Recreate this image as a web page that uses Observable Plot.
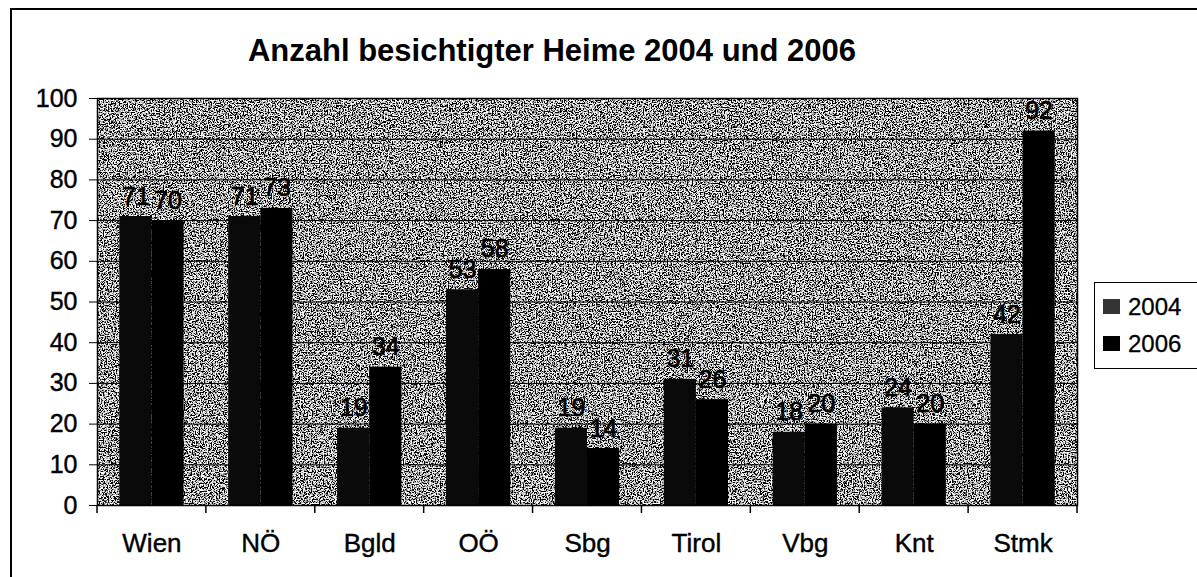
<!DOCTYPE html>
<html><head><meta charset="utf-8">
<script src="https://cdn.jsdelivr.net/npm/d3@7"></script>
<script src="https://cdn.jsdelivr.net/npm/@observablehq/plot@0.6"></script>
<style>
html,body{margin:0;padding:0;width:1197px;height:577px;overflow:hidden;background:#fff;font-family:"Liberation Sans",Arial,sans-serif;color:#000;}
#outer{position:absolute;left:10px;top:8px;width:1300px;height:700px;border-left:2px solid #000;border-top:2px solid #000;}
#title{position:absolute;left:0;top:35px;width:1104px;text-align:center;font-weight:bold;font-size:31px;line-height:31px;z-index:2;}
#chart{position:absolute;left:0;top:60px;z-index:1;}
#legend{position:absolute;left:1094px;top:282px;width:130px;height:85px;border:1.5px solid #000;background:#fff;z-index:3;}
.item{position:absolute;left:8px;height:24px;font-size:24px;line-height:24px;-webkit-text-stroke:0.3px #000;}
.sw{position:absolute;left:0;top:4px;width:17px;height:15px;}
.lb{position:absolute;left:25px;top:0;}
</style></head>
<body>
<div id="outer"></div>
<div id="title">Anzahl besichtigter Heime 2004 und 2006</div>
<div id="chart"></div>
<div id="legend"></div>
<script>
const categories = ["Wien","NÖ","Bgld","OÖ","Sbg","Tirol","Vbg","Knt","Stmk"];
const years = ["2004","2006"];
const values2004 = [71,71,19,53,19,31,18,24,42];
const values2006 = [70,73,34,58,14,26,20,20,92];
const yTicks = [0,10,20,30,40,50,60,70,80,90,100];
const colors = ["#0a0a0a","#000000"];

const data = categories.flatMap((c,i)=>[
  {cat:c, year:years[0], value:values2004[i]},
  {cat:c, year:years[1], value:values2006[i]}
]);

const plot = Plot.plot({
  width:1090, height:517,
  marginLeft:97, marginRight:13, marginTop:38, marginBottom:72,
  style:{background:"transparent", fontFamily:"Liberation Sans, Arial, sans-serif", color:"#000", overflow:"visible"},
  fx:{domain:categories, padding:0, round:false, label:null},
  x:{domain:years, paddingInner:0, paddingOuter:0.695, axis:null, round:false},
  y:{domain:[0,100], label:null},
  color:{domain:years, range:colors},
  marks:[
    Plot.frame({fill:"#777", facet:"super"}),
    Plot.gridY(yTicks, {stroke:"#000", strokeOpacity:1, strokeWidth:1}),
    Plot.barY(data, {fx:"cat", x:"year", y:"value", fill:"year"}),
    Plot.text(data, {fx:"cat", x:"year", y:"value", text:d=>String(d.value), dy:-20, fontSize:25, fill:"#000", stroke:"#000", strokeWidth:0.7}),
    Plot.axisY({ticks:yTicks, tickSize:8, tickPadding:12, fontSize:25, label:null, stroke:"#000"}),
    Plot.axisFx({anchor:"bottom", tickSize:0, tickPadding:28, fontSize:26, label:null}),
    Plot.frame({stroke:"#000", strokeWidth:1.5, facet:"super"})
  ]
});
document.getElementById("chart").appendChild(plot);

// noise texture for plot background
const svg = d3.select(plot);
const defs = svg.insert("defs", ":first-child");
const f = defs.append("filter").attr("id","noise").attr("x",0).attr("y",0).attr("width",1).attr("height",1);
f.append("feTurbulence").attr("type","fractalNoise").attr("baseFrequency",0.75).attr("numOctaves",2).attr("seed",11).attr("result","n");
f.append("feColorMatrix").attr("type","matrix").attr("values","1 0 0 0 0  1 0 0 0 0  1 0 0 0 0  0 0 0 0 1").attr("result","g");
const ct = f.append("feComponentTransfer");
["feFuncR","feFuncG","feFuncB"].forEach(t=>ct.append(t).attr("type","linear").attr("slope",5.5).attr("intercept",-2.35));
const frameEl = svg.select('[aria-label="frame"]');
const bgEl = frameEl.node() && frameEl.node().tagName.toLowerCase() === "rect" ? frameEl : frameEl.select("rect");
bgEl.attr("filter","url(#noise)");

// slightly heavier axis text, like the scanned original
svg.selectAll('[aria-label="y-axis tick label"] text, [aria-label="fx-axis tick label"] text')
  .attr("stroke","#000").attr("stroke-width",0.4);

// category boundary tick marks (Excel-style)
const fx = plot.scale("fx"), ys = plot.scale("y");
const bounds = categories.map(c => fx.apply(c)).concat([fx.apply(categories[categories.length-1]) + fx.bandwidth]);
const y0 = ys.apply(0);
svg.append("g").selectAll("line").data(bounds).join("line")
  .attr("x1",d=>d).attr("x2",d=>d).attr("y1",y0).attr("y2",y0+8)
  .attr("stroke","#000").attr("stroke-width",1.5);

// legend
const lg = d3.select("#legend");
years.forEach((yr,i)=>{
  const it = lg.append("div").attr("class","item").style("top",(12+i*37)+"px");
  it.append("div").attr("class","sw").style("background",i===0?"#333":colors[i]);
  it.append("div").attr("class","lb").text(yr);
});
</script>
</body></html>
